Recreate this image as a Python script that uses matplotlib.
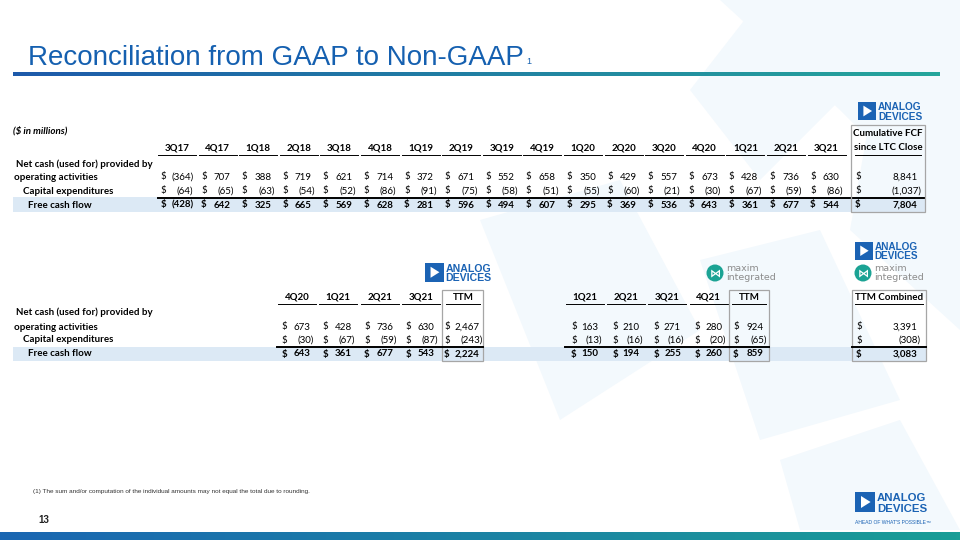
import numpy as np
import matplotlib.pyplot as plt
from matplotlib.patches import Rectangle, Polygon, Circle
from matplotlib import font_manager

# ---- data ($ in millions) ----
quarters_ltc = ['3Q17', '4Q17', '1Q18', '2Q18', '3Q18', '4Q18', '1Q19', '2Q19', '3Q19',
                '4Q19', '1Q20', '2Q20', '3Q20', '4Q20', '1Q21', '2Q21', '3Q21']
op_cash_ltc = [-364, 707, 388, 719, 621, 714, 372, 671, 552, 658, 350, 429, 557, 673, 428, 736, 630]
capex_ltc = [-64, -65, -63, -54, -52, -86, -91, -75, -58, -51, -55, -60, -21, -30, -67, -59, -86]
fcf_ltc = [-428, 642, 325, 665, 569, 628, 281, 596, 494, 607, 295, 369, 536, 643, 361, 677, 544]
cumulative_fcf = [8841, -1037, 7804]

quarters_adi = ['4Q20', '1Q21', '2Q21', '3Q21']
op_cash_adi = [673, 428, 736, 630]
capex_adi = [-30, -67, -59, -87]
fcf_adi = [643, 361, 677, 543]
ttm_adi = [2467, -243, 2224]

quarters_maxim = ['1Q21', '2Q21', '3Q21', '4Q21']
op_cash_maxim = [163, 210, 271, 280]
capex_maxim = [-13, -16, -16, -20]
fcf_maxim = [150, 194, 255, 260]
ttm_maxim = [924, -65, 859]

ttm_combined = [3391, -308, 3083]

row_labels = ['Net cash (used for) provided by', 'operating activities',
              'Capital expenditures', 'Free cash flow']

names = set(f.name for f in font_manager.fontManager.ttflist)
TF = 'Lato' if 'Lato' in names else 'DejaVu Sans'
FS = 7.0
ADI_BLUE = '#1B63B4'
BAND = '#DCE9F5'


def fmt(v):
    if v < 0:
        return '({:,})'.format(-v)
    return '{:,}'.format(v)


def money(ax, x_dollar, x_right, y, v, bold=False):
    w = 'bold' if bold else 'normal'
    ax.text(x_dollar, y, '$', ha='left', va='center', fontsize=FS, fontweight=w, family=TF)
    xr = x_right if v < 0 else x_right - 3.4
    ax.text(xr, y, fmt(v), ha='right', va='center', fontsize=FS, fontweight=w, family=TF)


def header(ax, x, y, txt, half=19):
    ax.text(x, y, txt, ha='center', va='center', fontsize=FS, fontweight='bold', family=TF)
    ax.plot([x - half, x + half], [y + 6.5, y + 6.5], color='black', lw=0.7)


def adi_logo(ax, x, y, s, txt_size):
    ax.add_patch(Rectangle((x, y), s, s, color=ADI_BLUE, lw=0))
    ax.add_patch(Polygon([(x + 0.3 * s, y + 0.2 * s), (x + 0.3 * s, y + 0.8 * s),
                          (x + 0.78 * s, y + 0.5 * s)], color='white', lw=0))
    ax.text(x + s + 2, y + 0.47 * s, 'ANALOG', ha='left', va='baseline', fontsize=txt_size,
            fontweight='bold', color=ADI_BLUE, family='Liberation Sans')
    ax.text(x + s + 2, y + 0.99 * s, 'DEVICES', ha='left', va='baseline', fontsize=txt_size,
            fontweight='bold', color=ADI_BLUE, family='Liberation Sans')


def maxim_logo(ax, cx, cy):
    ax.add_patch(Circle((cx, cy), 8.5, color='#1BA394', lw=0))
    ax.text(cx, cy, '⋈', ha='center', va='center', fontsize=8, fontweight='bold',
            color='white', family='DejaVu Sans')
    ax.text(cx + 11, cy - 4.5, 'maxim', ha='left', va='center', fontsize=6.8,
            color='#8C8C8C', family='DejaVu Sans')
    ax.text(cx + 11, cy + 5, 'integrated', ha='left', va='center', fontsize=6.8,
            color='#8C8C8C', family='DejaVu Sans')


def gradient_bar(ax, x0, x1, y0, y1, c0, c1):
    c0 = np.array(plt.matplotlib.colors.to_rgb(c0))
    c1 = np.array(plt.matplotlib.colors.to_rgb(c1))
    t = np.linspace(0, 1, 256)[:, None]
    img = (c0 * (1 - t) + c1 * t)[None, :, :]
    ax.imshow(img, extent=(x0, x1, y1, y0), aspect='auto', zorder=2)


fig = plt.figure(figsize=(9.6, 5.4), dpi=100)
ax = fig.add_axes([0, 0, 1, 1])
ax.axis('off')

# pale background triangles
bg = '#F3F9FD'
for pts in [[(720, 0), (960, 0), (960, 230), (840, 110)],
            [(760, 0), (850, 90), (760, 180), (690, 90)],
            [(880, 60), (960, 140), (960, 330), (850, 230)],
            [(480, 220), (620, 180), (700, 330), (560, 420)],
            [(700, 260), (820, 230), (900, 400), (760, 440)],
            [(780, 460), (900, 420), (960, 530), (800, 530)]]:
    ax.add_patch(Polygon(pts, color=bg, lw=0, zorder=0))

# title
ax.text(28, 58, 'Reconciliation from GAAP to Non-GAAP', ha='left', va='center',
        fontsize=20, color='#1560B0', family='Liberation Sans')
ax.text(526, 61, '1', ha='left', va='center', fontsize=6.5, color='#1560B0', family='Liberation Sans')
gradient_bar(ax, 13, 940, 72, 76, '#1D5AAB', '#25A69B')
gradient_bar(ax, 0, 960, 532, 540, '#1A66B2', '#1C9E96')

# ---- table 1: since LTC close ----
ax.text(13, 131, '($ in millions)', ha='left', va='center', fontsize=FS, fontweight='bold',
        style='italic', family=TF)
ax.add_patch(Rectangle((13, 197), 912, 15, color=BAND, lw=0, zorder=1))
ax.plot([158, 925], [197.5, 197.5], color='black', lw=1.4, zorder=3)
ax.add_patch(Rectangle((851, 125), 74, 87, fill=False, ec='#A6A6A6', lw=0.9, zorder=3))

ys1 = [164, 177, 191, 205]
for lab, y, dx in zip(row_labels, ys1, [16, 14, 23, 28]):
    ax.text(dx, y, lab, ha='left', va='center', fontsize=FS, fontweight='bold', family=TF)

for i, q in enumerate(quarters_ltc):
    c = 177 + 40.6 * i
    header(ax, c, 148, q)
    money(ax, c - 16.5, c + 16.5, ys1[1], op_cash_ltc[i])
    money(ax, c - 16.5, c + 16.5, ys1[2], capex_ltc[i])
    money(ax, c - 16.5, c + 16.5, ys1[3], fcf_ltc[i], bold=True)

ax.text(888, 133, 'Cumulative FCF', ha='center', va='center', fontsize=FS, fontweight='bold', family=TF)
header(ax, 888, 148, 'since LTC Close', half=33)
for v, y, b in zip(cumulative_fcf, ys1[1:], [False, False, True]):
    money(ax, 855, 921, y, v, bold=b)

adi_logo(ax, 858, 102, 18, 7.3)

# ---- table 2 and 3: ADI / Maxim TTM ----
ys2 = [312, 327, 340, 354]
ax.add_patch(Rectangle((13, 347), 913, 14, color=BAND, lw=0, zorder=1))
for lab, y, dx in zip(row_labels, ys2, [16, 14, 23, 28]):
    ax.text(dx, y, lab, ha='left', va='center', fontsize=FS, fontweight='bold', family=TF)

# ADI block
for i, q in enumerate(quarters_adi):
    c = 297 + 41.3 * i
    header(ax, c, 297, q)
    money(ax, c - 15.5, c + 17, ys2[1], op_cash_adi[i])
    money(ax, c - 15.5, c + 17, ys2[2], capex_adi[i])
    money(ax, c - 15.5, c + 17, ys2[3], fcf_adi[i], bold=True)
header(ax, 463, 297, 'TTM', half=17)
for v, y, b in zip(ttm_adi, ys2[1:], [False, False, True]):
    money(ax, 444, 482.5, y, v, bold=b)
ax.add_patch(Rectangle((442, 290), 41, 71, fill=False, ec='#A6A6A6', lw=0.9, zorder=3))
ax.plot([277, 483], [347, 347], color='black', lw=1.4, zorder=3)
adi_logo(ax, 425, 263, 18.5, 7.6)

# Maxim block
for i, q in enumerate(quarters_maxim):
    c = 585 + 41.2 * i
    header(ax, c, 297, q)
    money(ax, c - 14, c + 17, ys2[1], op_cash_maxim[i])
    money(ax, c - 14, c + 17, ys2[2], capex_maxim[i])
    money(ax, c - 14, c + 17, ys2[3], fcf_maxim[i], bold=True)
header(ax, 749, 297, 'TTM', half=17)
for v, y, b in zip(ttm_maxim, ys2[1:], [False, False, True]):
    money(ax, 733, 767, y, v, bold=b)
ax.add_patch(Rectangle((729, 290), 40, 71, fill=False, ec='#A6A6A6', lw=0.9, zorder=3))
ax.plot([565, 769], [347, 347], color='black', lw=1.4, zorder=3)
maxim_logo(ax, 715, 273)

# combined
header(ax, 889, 297, 'TTM Combined', half=34)
for v, y, b in zip(ttm_combined, ys2[1:], [False, False, True]):
    money(ax, 856, 921, y, v, bold=b)
ax.add_patch(Rectangle((852, 290), 74, 71, fill=False, ec='#A6A6A6', lw=0.9, zorder=3))
ax.plot([852, 926], [347, 347], color='black', lw=1.4, zorder=3)
adi_logo(ax, 855, 242, 17.5, 7.2)
maxim_logo(ax, 863, 273)

# ---- footer ----
ax.text(33, 492, '(1) The sum and/or computation of the individual amounts may not equal the total due to rounding.',
        ha='left', va='center', fontsize=4.6, color='#333333', family='Liberation Sans')
ax.text(38, 520, '13', ha='left', va='center', fontsize=7, fontweight='bold', color='#222222',
        family='Liberation Sans')
adi_logo(ax, 855, 492, 20, 8.2)
ax.text(855, 522, "AHEAD OF WHAT'S POSSIBLE™", ha='left', va='center', fontsize=3.6,
        color=ADI_BLUE, family='Liberation Sans')

ax.set_xlim(0, 960)
ax.set_ylim(540, 0)
fig.savefig('out.png', dpi=100, facecolor='white')
